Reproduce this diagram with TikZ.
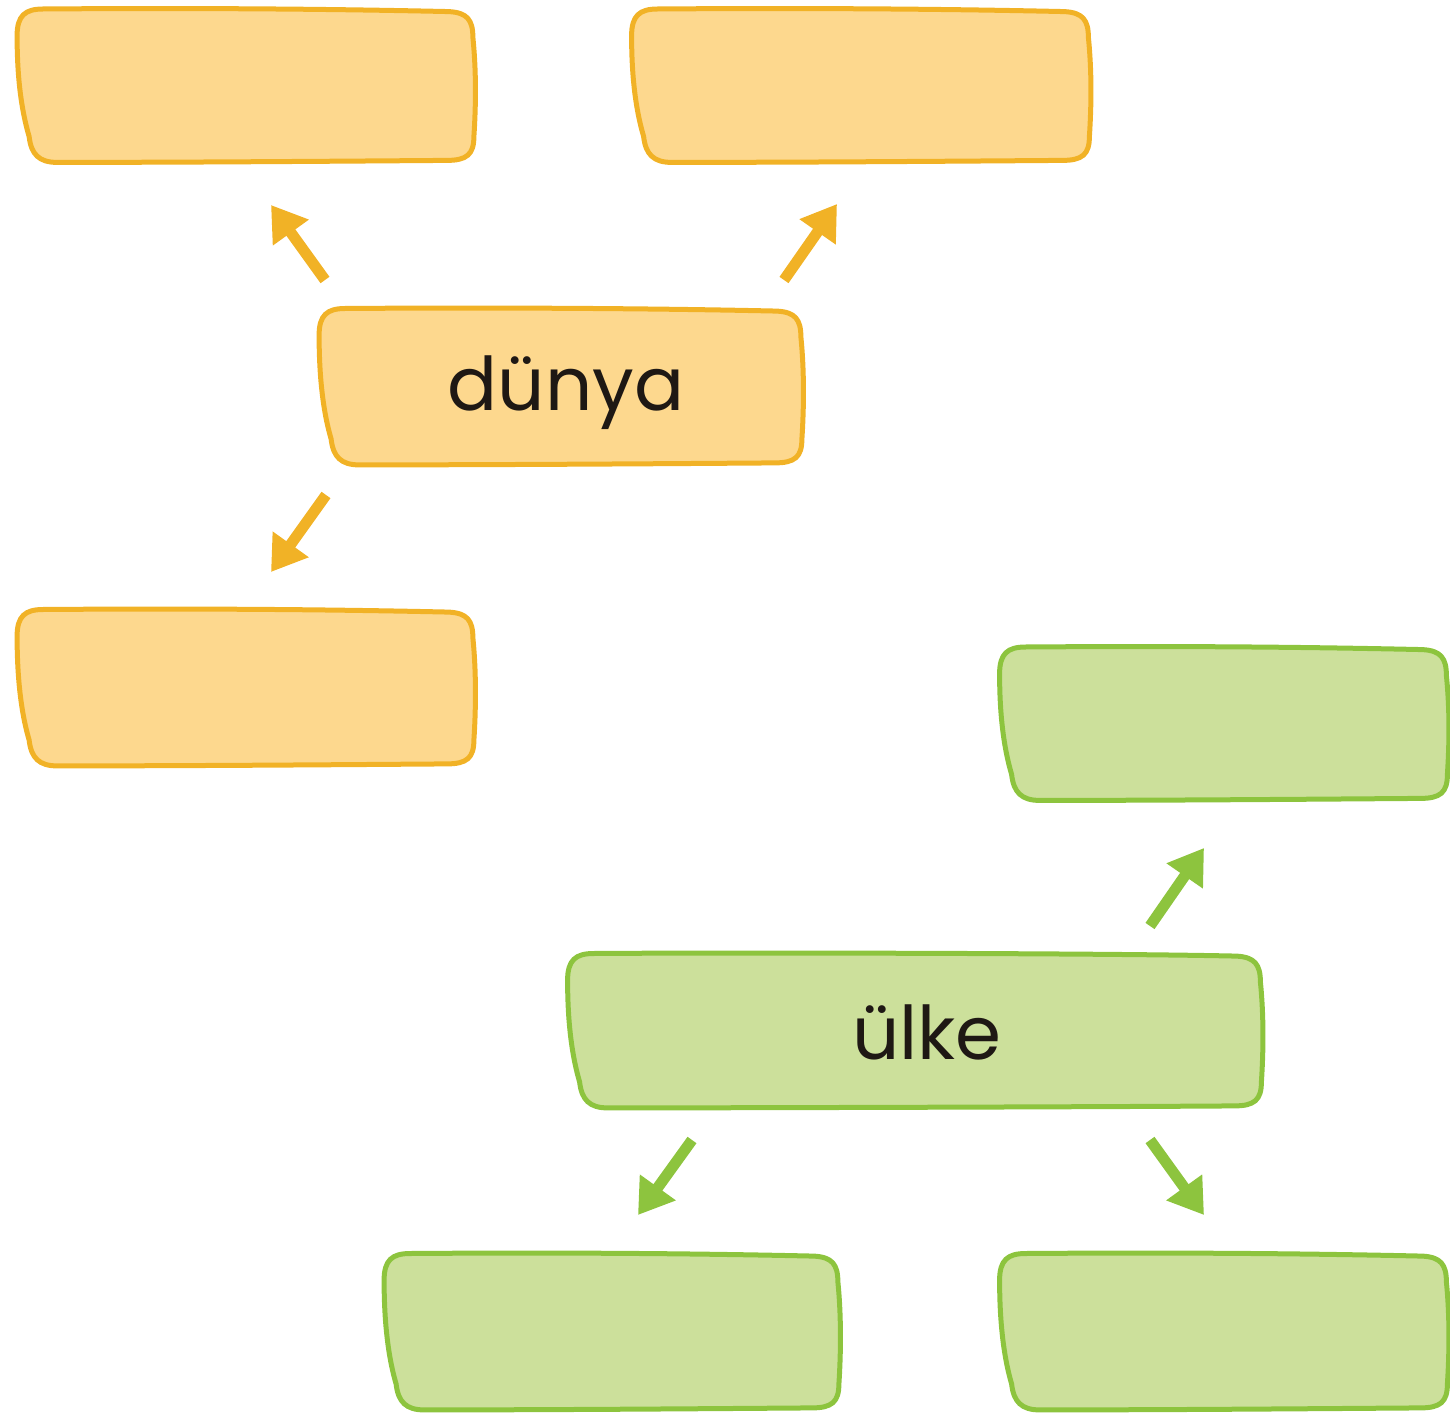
\documentclass[tikz,border=0pt]{standalone}
\usepackage{fontspec}
\setmainfont{Poppins}
\usetikzlibrary{arrows.meta,backgrounds,calc}
\definecolor{ofill}{RGB}{253,216,142}
\definecolor{ostroke}{RGB}{241,178,38}
\definecolor{gfill}{RGB}{204,224,155}
\definecolor{gstroke}{RGB}{141,196,62}
\definecolor{txt}{RGB}{30,24,20}
\newcommand\blobshape[2]{%
  \path[#2] let \p1=(#1.north west), \p2=(#1.south east) in
    (\x1+13pt,\y1+0.3pt)
    .. controls (\x1+80pt,\y1+0.8pt) and (\x2-80pt,\y1+0.5pt) .. (\x2-13pt,\y1-1pt)
    .. controls (\x2-4pt,\y1-1.5pt) and (\x2-1pt,\y1-5pt) .. (\x2-1pt,\y1-14pt)
    .. controls (\x2+0.6pt,\y1-30pt) and (\x2+0.6pt,\y2+30pt) .. (\x2-0.5pt,\y2+13pt)
    .. controls (\x2-0.5pt,\y2+4pt) and (\x2-4pt,\y2+1pt) .. (\x2-14pt,\y2+1pt)
    .. controls (\x2-80pt,\y2+0.5pt) and (\x1+80pt,\y2) .. (\x1+20pt,\y2)
    .. controls (\x1+11pt,\y2) and (\x1+7pt,\y2+4pt) .. (\x1+6pt,\y2+13pt)
    .. controls (\x1+1pt,\y2+30pt) and (\x1,\y1-28pt) .. (\x1,\y1-13pt)
    .. controls (\x1,\y1-3pt) and (\x1+4pt,\y1+0.3pt) .. (\x1+13pt,\y1+0.3pt) -- cycle;}
\tikzset{
  boxnode/.style={inner sep=0pt, text=txt},
  lbl/.style={text=txt, inner sep=0pt, font=\fontsize{37}{44}\selectfont},
  oblob/.style={fill=ofill, draw=ostroke, line width=2.5pt, line join=round},
  gblob/.style={fill=gfill, draw=gstroke, line width=2.5pt, line join=round},
  oarrow/.style={draw=ostroke, line width=5.5pt, -{Triangle[length=17pt,width=21pt]}},
  garrow/.style={draw=gstroke, line width=5.5pt, -{Triangle[length=17pt,width=21pt]}}
}
\begin{document}
\begin{tikzpicture}[x=0.5pt,y=-0.5pt]
\useasboundingbox (0,0) rectangle (1450,1427);
% orange nodes
\node[boxnode, minimum width=228.5pt, minimum height=76pt] (tl) at (246,86) {};
\node[boxnode, minimum width=229pt, minimum height=76pt] (tr) at (861,86) {};
\node[boxnode, minimum width=241.5pt, minimum height=77.5pt] (dunya) at (561,387) {};
\node[boxnode, minimum width=228.5pt, minimum height=77.5pt] (ml) at (246,688) {};
% green nodes
\node[boxnode, minimum width=224pt, minimum height=76pt] (gr) at (1224,724) {};
\node[boxnode, minimum width=347pt, minimum height=76.5pt] (ulke) at (915,1031) {};
\node[boxnode, minimum width=227.5pt, minimum height=77.5pt] (gbl) at (612,1332) {};
\node[boxnode, minimum width=224pt, minimum height=77.5pt] (gbr) at (1224,1332) {};
% labels
\node[lbl, anchor=base] (dunyatext) at ([xshift=2.5pt,yshift=-12pt]dunya.center) {dünya};
\node[lbl, anchor=base] (ulketext) at ([xshift=6pt,yshift=-14pt]ulke.center) {ülke};
\begin{scope}[on background layer]
\blobshape{tl}{oblob}
\blobshape{tr}{oblob}
\blobshape{dunya}{oblob}
\blobshape{ml}{oblob}
\blobshape{gr}{gblob}
\blobshape{ulke}{gblob}
\blobshape{gbl}{gblob}
\blobshape{gbr}{gblob}
\end{scope}
% arrow end points
\coordinate (a1s) at (325,280); \coordinate (a1e) at (271,205);
\coordinate (a2s) at (784,280); \coordinate (a2e) at (837,204);
\coordinate (a3s) at (326,495); \coordinate (a3e) at (271,572);
\coordinate (a4s) at (1150,926); \coordinate (a4e) at (1204,848);
\coordinate (a5s) at (692,1140); \coordinate (a5e) at (638,1215);
\coordinate (a6s) at (1150,1140); \coordinate (a6e) at (1204,1215);
\draw[oarrow] (a1s) -- (a1e);
\draw[oarrow] (a2s) -- (a2e);
\draw[oarrow] (a3s) -- (a3e);
\draw[garrow] (a4s) -- (a4e);
\draw[garrow] (a5s) -- (a5e);
\draw[garrow] (a6s) -- (a6e);
\end{tikzpicture}
\end{document}
